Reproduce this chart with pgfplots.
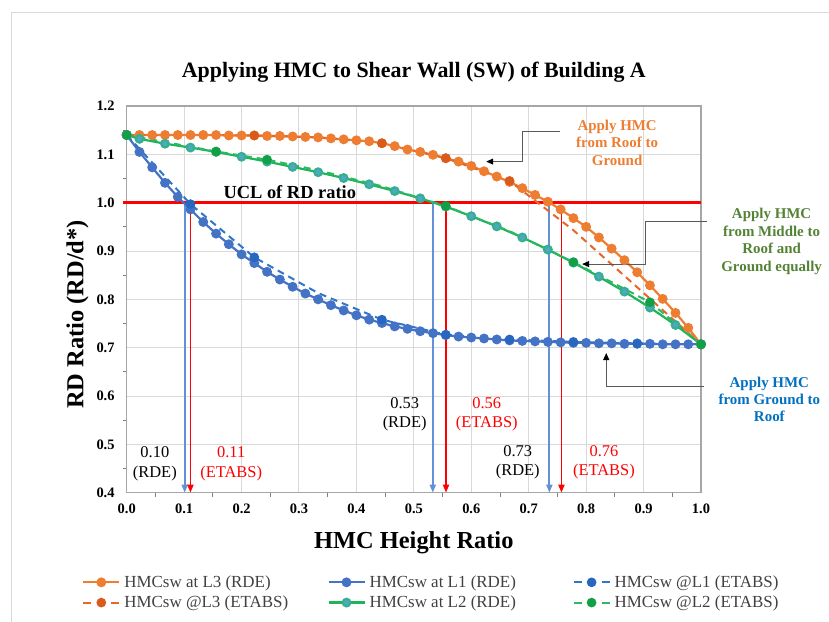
\documentclass[border=0pt]{standalone}
\usepackage{pgfplots}
\pgfplotsset{compat=1.18}
\usepackage{pgfplotstable}
\usepackage{fontspec}
\setmainfont{Liberation Serif}
\usetikzlibrary{arrows.meta}

\definecolor{cOr}{HTML}{ED7D31}
\definecolor{cOrE}{HTML}{E5672C}
\definecolor{cOrEm}{HTML}{DA5A1C}
\definecolor{cBl}{HTML}{4472C4}
\definecolor{cBlE}{HTML}{2F77C9}
\definecolor{cBlEm}{HTML}{2767C0}
\definecolor{cGr}{HTML}{1FB35A}
\definecolor{cTeal}{HTML}{4FA9C6}
\definecolor{cGrE}{HTML}{2DB862}
\definecolor{cGrEm}{HTML}{12A046}
\definecolor{cArrB}{HTML}{6490D8}
\definecolor{cRed}{HTML}{FF0000}
\definecolor{gridgray}{HTML}{D9D9D9}
\definecolor{axisgray}{HTML}{A6A6A6}
\definecolor{annOr}{HTML}{ED7D31}
\definecolor{annGr}{HTML}{548235}
\definecolor{annBl}{HTML}{0070C0}
\definecolor{legtext}{HTML}{404040}
\definecolor{callout}{HTML}{595959}

\pgfplotstableread{
x L3 L1
0.0000 1.140 1.140
0.0222 1.140 1.105
0.0444 1.140 1.073
0.0667 1.140 1.041
0.0889 1.140 1.012
0.1111 1.140 0.986
0.1333 1.140 0.960
0.1556 1.140 0.936
0.1778 1.139 0.914
0.2000 1.139 0.893
0.2222 1.139 0.875
0.2444 1.138 0.857
0.2667 1.138 0.841
0.2889 1.137 0.826
0.3111 1.136 0.812
0.3333 1.135 0.800
0.3556 1.133 0.788
0.3778 1.131 0.777
0.4000 1.129 0.767
0.4222 1.127 0.758
0.4444 1.123 0.751
0.4667 1.117 0.744
0.4889 1.110 0.739
0.5111 1.105 0.734
0.5333 1.099 0.730
0.5556 1.092 0.726
0.5778 1.085 0.723
0.6000 1.076 0.721
0.6222 1.065 0.719
0.6444 1.054 0.717
0.6667 1.043 0.715
0.6889 1.030 0.714
0.7111 1.016 0.713
0.7333 1.002 0.712
0.7556 0.986 0.711
0.7778 0.968 0.710
0.8000 0.950 0.710
0.8222 0.928 0.709
0.8444 0.905 0.709
0.8667 0.881 0.708
0.8889 0.856 0.708
0.9111 0.829 0.708
0.9333 0.801 0.707
0.9556 0.772 0.707
0.9778 0.741 0.707
1.0000 0.707 0.707
}\rde

\pgfplotstableread{
x L2
0.0000 1.140
0.0222 1.132
0.0667 1.122
0.1111 1.114
0.1556 1.105
0.2000 1.095
0.2444 1.085
0.2889 1.074
0.3333 1.063
0.3778 1.051
0.4222 1.038
0.4667 1.024
0.5111 1.009
0.5556 0.992
0.6000 0.972
0.6444 0.951
0.6889 0.928
0.7333 0.903
0.7778 0.876
0.8222 0.847
0.8667 0.816
0.9111 0.783
0.9556 0.747
1.0000 0.707
}\rdeg

\pgfplotstableread{
x L3 L1
0.0000 1.140 1.140
0.1111 1.140 0.997
0.2222 1.139 0.887
0.3333 1.135 0.813
0.4444 1.123 0.758
0.5556 1.092 0.727
0.6667 1.045 0.717
0.7778 0.943 0.712
0.8889 0.825 0.709
1.0000 0.707 0.707
}\etabs

\pgfplotstableread{
x L2
0.0000 1.140
0.1556 1.106
0.2444 1.089
0.3333 1.067
0.4444 1.034
0.5556 0.993
0.6667 0.941
0.7778 0.877
0.9111 0.794
1.0000 0.707
}\etabsg

\newcommand{\fs}[2]{\fontsize{#1}{#2}\selectfont}

\begin{document}
\begin{tikzpicture}
\path[use as bounding box] (0bp,0bp) rectangle (829bp,622bp);
\draw[gridgray, line width=1bp] (11.7bp,0bp) -- (11.7bp,609bp) -- (829bp,609bp);

\begin{axis}[
  at={(126.7bp,129.3bp)}, anchor=south west,
  width=574.3bp, height=386.7bp, scale only axis,
  xmin=0, xmax=1, ymin=0.4, ymax=1.2,
  xtick={0,0.1,0.2,0.3,0.4,0.5,0.6,0.7,0.8,0.9,1.0},
  ytick={0.4,0.5,0.6,0.7,0.8,0.9,1.0,1.1,1.2},
  minor x tick num=1, minor y tick num=1,
  xtick pos=left, ytick pos=left,
  tick align=outside,
  major tick length=0pt, minor tick length=4bp,
  minor tick style={color=gray, line width=0.8bp},
  grid=major,
  major grid style={color=gridgray, line width=1bp},
  axis line style={color=axisgray, line width=1.4bp},
  /pgf/number format/assume math mode=true,
  tick label style={font=\bfseries\fs{14.5}{16}, text=black},
  xticklabel style={yshift=-7.5bp, /pgf/number format/.cd, fixed, fixed zerofill, precision=1},
  yticklabel style={xshift=-8.6bp, /pgf/number format/.cd, fixed, fixed zerofill, precision=1},
  clip=false,
  legend columns=3,
  legend cell align=left,
  legend style={at={(axis description cs:-0.0778,-0.258)}, anchor=west,
    draw=none, fill=none, inner sep=0pt, row sep=7bp,
    /tikz/every odd column/.append style={column sep=4bp},
    nodes={inner sep=0pt, text=legtext, font=\fs{17}{18}}},
  legend image code/.code={
    \draw[mark repeat=2, mark phase=2, #1] plot coordinates {(0bp,0bp) (18bp,0bp) (36bp,0bp)};
  },
]

% UCL line and arrows
\addplot[cRed, line width=2.5bp, forget plot] coordinates {(-0.007,1.0) (1.0,1.0)};
\addplot[cArrB, line width=1.8bp, -{Triangle[length=8bp,width=6bp]}, forget plot] coordinates {(0.101,1.0) (0.101,0.4)};
\addplot[cArrB, line width=1.8bp, -{Triangle[length=8bp,width=6bp]}, forget plot] coordinates {(0.533,1.0) (0.533,0.4)};
\addplot[cArrB, line width=1.8bp, -{Triangle[length=8bp,width=6bp]}, forget plot] coordinates {(0.736,1.0) (0.736,0.4)};
\addplot[cRed, line width=1.8bp, -{Triangle[length=8bp,width=6bp]}, forget plot] coordinates {(0.111,1.0) (0.111,0.4)};
\addplot[cRed, line width=1.8bp, -{Triangle[length=8bp,width=6bp]}, forget plot] coordinates {(0.556,0.99) (0.556,0.4)};
\addplot[cRed, line width=1.8bp, -{Triangle[length=8bp,width=6bp]}, forget plot] coordinates {(0.757,0.985) (0.757,0.4)};

% data series
\addplot[cOr, line width=2.2bp, mark=*, mark size=3.8bp, mark options={solid, fill=cOr, draw=cOr}, forget plot] table[x=x, y=L3] {\rde};
\addplot[cBl, line width=2.2bp, mark=*, mark size=3.8bp, mark options={solid, fill=cBl, draw=cBl}, forget plot] table[x=x, y=L1] {\rde};
\addplot[cBlE, line width=2bp, dash pattern=on 7bp off 5bp, mark=*, mark size=3.8bp, mark indices={1,2,3,5,6,7,8,9,10}, mark options={solid, fill=cBlEm, draw=cBlEm}, forget plot] table[x=x, y=L1] {\etabs};
\addplot[cOrE, line width=2bp, dash pattern=on 7bp off 5bp, mark=*, mark size=3.8bp, mark indices={1,3,5,6,7,10}, mark options={solid, fill=cOrEm, draw=cOrEm}, forget plot] table[x=x, y=L3] {\etabs};
\addplot[cGr, line width=2.2bp, mark=*, mark size=3.8bp, mark options={solid, fill=cTeal, draw=cGr!50!cTeal}, forget plot] table[x=x, y=L2] {\rdeg};
\addplot[cGrE, line width=2bp, dash pattern=on 7bp off 5bp, mark=*, mark size=3.8bp, mark indices={1,2,3,6,8,9,10}, mark options={solid, fill=cGrEm, draw=cGrEm}, forget plot] table[x=x, y=L2] {\etabsg};

% legend
\addlegendimage{cOr, line width=2.2bp, mark=*, mark size=3.8bp, mark options={solid, fill=cOr, draw=cOr}}
\addlegendentry{\makebox[203bp][l]{HMCsw at L3 (RDE)}}
\addlegendimage{cBl, line width=2.2bp, mark=*, mark size=3.8bp, mark options={solid, fill=cBl, draw=cBl}}
\addlegendentry{\makebox[203bp][l]{HMCsw at L1 (RDE)}}
\addlegendimage{cBlE, line width=2bp, dash pattern=on 8bp off 6bp, mark=*, mark size=3.8bp, mark options={solid, fill=cBlEm, draw=cBlEm}}
\addlegendentry{\makebox[203bp][l]{HMCsw @L1 (ETABS)}}
\addlegendimage{cOrE, line width=2bp, dash pattern=on 8bp off 6bp, mark=*, mark size=3.8bp, mark options={solid, fill=cOrEm, draw=cOrEm}}
\addlegendentry{\makebox[203bp][l]{HMCsw @L3 (ETABS)}}
\addlegendimage{cGr, line width=2.2bp, mark=*, mark size=3.8bp, mark options={solid, fill=cTeal, draw=cGr!50!cTeal}}
\addlegendentry{\makebox[203bp][l]{HMCsw at L2 (RDE)}}
\addlegendimage{cGrE, line width=2bp, dash pattern=on 8bp off 6bp, mark=*, mark size=3.8bp, mark options={solid, fill=cGrEm, draw=cGrEm}}
\addlegendentry{\makebox[203bp][l]{HMCsw @L2 (ETABS)}}

% annotations
\node[anchor=base, font=\bfseries\fs{18.5}{20}] at (axis cs:0.284,1.008) {UCL of RD ratio};

\node[align=center, font=\fs{16.5}{19.5}] at (axis cs:0.049,0.460) {0.10\\(RDE)};
\node[align=center, text=cRed, font=\fs{16.5}{19.5}] at (axis cs:0.182,0.460) {0.11\\(ETABS)};
\node[align=center, font=\fs{16.5}{19.5}] at (axis cs:0.484,0.562) {0.53\\(RDE)};
\node[align=center, text=cRed, font=\fs{16.5}{19.5}] at (axis cs:0.627,0.562) {0.56\\(ETABS)};
\node[align=center, font=\fs{16.5}{19.5}] at (axis cs:0.681,0.463) {0.73\\(RDE)};
\node[align=center, text=cRed, font=\fs{16.5}{19.5}] at (axis cs:0.831,0.463) {0.76\\(ETABS)};

\node[align=center, text=annOr, font=\bfseries\fs{15}{17.5}] at (axis cs:0.854,1.124) {Apply HMC\\from Roof to\\Ground};
\node[align=center, text=annGr, font=\bfseries\fs{15}{17.5}] at (axis cs:1.123,0.920) {Apply HMC\\from Middle to\\Roof and\\Ground equally};
\node[align=center, text=annBl, font=\bfseries\fs{15}{17.5}] at (axis cs:1.119,0.593) {Apply HMC\\from Ground to\\Roof};

\draw[callout, line width=1bp, -{Triangle[length=7bp,width=6bp,color=black,fill=black]}] (axis cs:0.754,1.148) -- (axis cs:0.690,1.148) -- (axis cs:0.690,1.085) -- (axis cs:0.626,1.085);
\draw[callout, line width=1bp, -{Triangle[length=7bp,width=6bp,color=black,fill=black]}] (axis cs:1.011,0.962) -- (axis cs:0.904,0.962) -- (axis cs:0.904,0.873) -- (axis cs:0.793,0.873);
\draw[callout, line width=1bp, -{Triangle[length=7bp,width=6bp,color=black,fill=black]}] (axis cs:1.005,0.619) -- (axis cs:0.835,0.619) -- (axis cs:0.835,0.689);
\end{axis}

\node[anchor=base, font=\bfseries\fs{22}{24}] at (413.8bp,544.5bp) {Applying HMC to Shear Wall (SW) of Building A};
\node[anchor=base, font=\bfseries\fs{24.5}{26}] at (413.8bp,73.7bp) {HMC Height Ratio};
\node[anchor=base, rotate=90, font=\bfseries\fs{24.5}{26}] at (83.3bp,307.5bp) {RD Ratio (RD/d*)};
\end{tikzpicture}
\end{document}
